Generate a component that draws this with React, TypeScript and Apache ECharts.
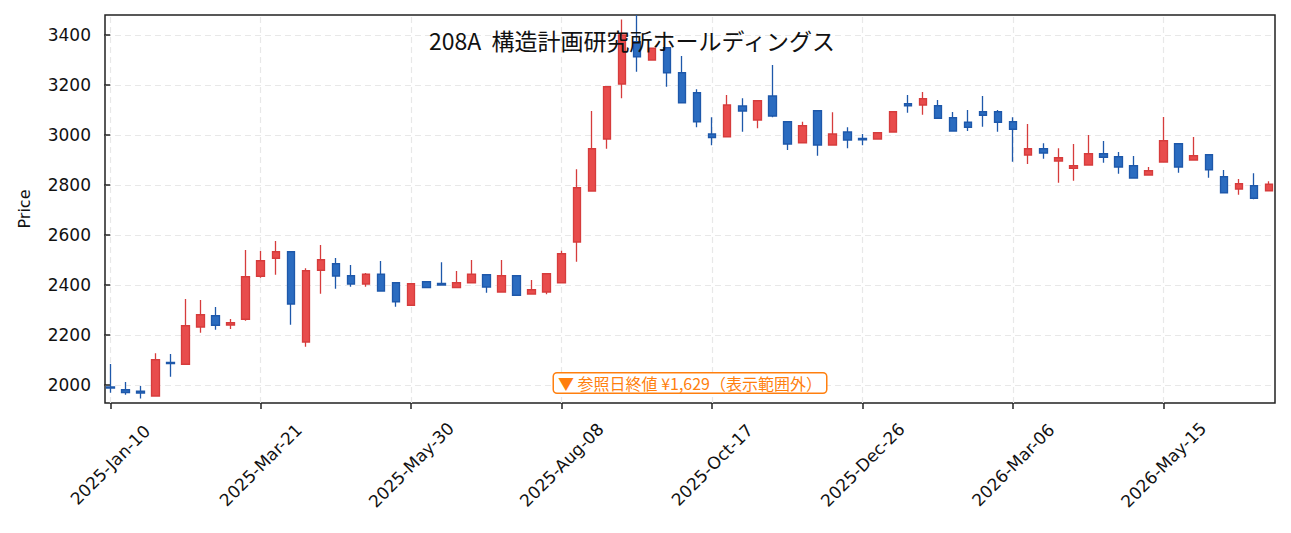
import React, { useEffect, useRef } from "react";
import * as echarts from "echarts";

const TITLE = "208A  構造計画研究所ホールディングス";
const NOTE = "▼ 参照日終値 ¥1,629（表示範囲外）";

const opens = [1992, 1981, 1975, 1956, 2090, 2083, 2232, 2277, 2240, 2263, 2435, 2507, 2533, 2172, 2459, 2485, 2437, 2404, 2443, 2409, 2319, 2413, 2406, 2390, 2409, 2441, 2372, 2437, 2364, 2372, 2409, 2572, 2776, 2984, 3204, 3373, 3300, 3349, 3249, 3169, 3004, 2993, 3116, 3060, 3156, 3053, 2969, 3097, 2960, 3012, 2986, 2984, 3012, 3125, 3120, 3117, 3069, 3051, 3093, 3093, 3053, 2920, 2945, 2896, 2867, 2880, 2925, 2913, 2877, 2840, 2892, 2965, 2900, 2921, 2833, 2784, 2797, 2777];
const closes = [1988, 1970, 1968, 2101, 2086, 2237, 2281, 2239, 2249, 2433, 2497, 2533, 2324, 2457, 2501, 2436, 2404, 2443, 2376, 2333, 2405, 2390, 2400, 2409, 2443, 2392, 2437, 2359, 2381, 2445, 2525, 2789, 2945, 3193, 3400, 3313, 3347, 3249, 3129, 3053, 2990, 3120, 3096, 3137, 3076, 2964, 3037, 2960, 3004, 2980, 2981, 3009, 3093, 3117, 3145, 3067, 3016, 3031, 3079, 3051, 3023, 2945, 2928, 2909, 2877, 2925, 2911, 2872, 2828, 2857, 2977, 2872, 2917, 2861, 2769, 2805, 2747, 2803];
const lows = [1969, 1961, 1946, 1955, 2033, 2082, 2209, 2221, 2224, 2257, 2429, 2441, 2241, 2153, 2365, 2385, 2393, 2393, 2376, 2313, 2318, 2388, 2399, 2388, 2408, 2369, 2371, 2358, 2363, 2363, 2408, 2493, 2775, 2945, 3147, 3253, 3299, 3193, 3128, 3031, 2959, 2992, 3013, 3027, 3071, 2940, 2968, 2917, 2959, 2947, 2959, 2983, 3011, 3089, 3081, 3066, 3015, 3016, 3033, 3013, 2893, 2884, 2905, 2809, 2817, 2879, 2889, 2845, 2827, 2839, 2891, 2849, 2899, 2829, 2768, 2761, 2743, 2776];
const highs = [2084, 2012, 1996, 2127, 2124, 2344, 2340, 2312, 2264, 2540, 2536, 2576, 2534, 2467, 2560, 2508, 2480, 2448, 2496, 2410, 2406, 2414, 2491, 2456, 2500, 2442, 2500, 2438, 2420, 2446, 2537, 2863, 3096, 3195, 3462, 3480, 3348, 3350, 3316, 3183, 3071, 3160, 3147, 3138, 3280, 3054, 3053, 3098, 3091, 3031, 3004, 3010, 3094, 3160, 3172, 3140, 3092, 3100, 3156, 3100, 3071, 3044, 2967, 2947, 2964, 3000, 2976, 2932, 2916, 2872, 3072, 2966, 2992, 2922, 2860, 2824, 2847, 2815];

const xTickPositions = [0, 10, 20, 30, 40, 50, 60, 70];
const xTickLabels = ["2025-Jan-10", "2025-Mar-21", "2025-May-30", "2025-Aug-08", "2025-Oct-17", "2025-Dec-26", "2026-Mar-06", "2026-May-15"];
const yTicks = [2000, 2200, 2400, 2600, 2800, 3000, 3200, 3400];

const LATIN = "DejaVu Sans";
const CJK = "Noto Sans CJK JP";

export default function App() {
  const ref = useRef<HTMLDivElement>(null);
  useEffect(() => {
    document.body.style.margin = "0";
    if (!ref.current) return;
    const chart = echarts.init(ref.current, undefined, { renderer: "svg" });
    const candles = opens.map((o, i) => [i, o, closes[i], lows[i], highs[i]]);
    const gridMarks = [
      ...yTicks.map((v) => ({ yAxis: v })),
      ...xTickPositions.map((v) => ({ xAxis: v })),
    ];
    chart.setOption({
      animation: false,
      backgroundColor: "#ffffff",
      title: {
        text: TITLE,
        left: 424,
        top: 23,
        textStyle: { fontSize: 23, fontWeight: "normal", fontFamily: CJK, color: "#111" },
      },
      grid: {
        left: 105,
        right: 16,
        top: 15,
        bottom: 130,
        show: true,
        borderColor: "#222",
        borderWidth: 1.5,
        backgroundColor: "transparent",
        outerBoundsMode: "none",
      },
      xAxis: {
        type: "value",
        min: -0.35,
        max: 77.4,
        axisLine: { show: false },
        splitLine: { show: false },
        axisTick: { show: true, customValues: xTickPositions, length: 6, lineStyle: { color: "#222", width: 1.5 } },
        axisLabel: {
          customValues: xTickPositions,
          formatter: (v: number) => xTickLabels[xTickPositions.indexOf(Math.round(v))] ?? "",
          rotate: 45,
          align: "center",
          verticalAlign: "middle",
          margin: 62,
          fontSize: 17,
          fontFamily: LATIN,
          color: "#111",
        },
      },
      yAxis: {
        type: "value",
        min: 1928,
        max: 3480,
        name: "Price",
        nameLocation: "middle",
        nameGap: 73,
        nameRotate: 90,
        nameTextStyle: { fontSize: 16, fontFamily: LATIN, color: "#111" },
        axisLine: { show: false },
        splitLine: { show: false },
        axisTick: { show: true, customValues: yTicks, length: 6, lineStyle: { color: "#222", width: 1.5 } },
        axisLabel: {
          customValues: yTicks,
          formatter: (v: number) => String(v),
          margin: 14,
          fontSize: 17,
          fontFamily: LATIN,
          color: "#111",
        },
      },
      graphic: [
        {
          type: "text",
          x: 690,
          y: 383,
          z: 100,
          style: {
            text: NOTE,
            fill: "#ff7f0e",
            fontSize: 16,
            fontFamily: CJK,
            align: "center",
            verticalAlign: "middle",
            backgroundColor: "#ffffff",
            borderColor: "#ff7f0e",
            borderWidth: 1.5,
            borderRadius: 3,
            padding: [2, 4, 1, 4],
          },
        },
      ],
      series: [
        {
          type: "line",
          data: [],
          z: 0,
          silent: true,
          markLine: {
            silent: true,
            z: 0,
            symbol: "none",
            label: { show: false },
            lineStyle: { type: [6, 4], color: "#e8e8e8", width: 1.2 },
            data: gridMarks,
          },
        },
        {
          type: "candlestick",
          z: 3,
          data: candles,
          encode: { x: 0, y: [1, 2, 3, 4] },
          barWidth: 8,
          clip: true,
          itemStyle: {
            color: "#e84c4c",
            color0: "#2b6cc0",
            borderColor: "#d63c3c",
            borderColor0: "#1e58aa",
            borderWidth: 1.3,
          },
        },
      ],
    });
    return () => chart.dispose();
  }, []);
  return <div ref={ref} style={{ width: 1291, height: 533 }} />;
}
